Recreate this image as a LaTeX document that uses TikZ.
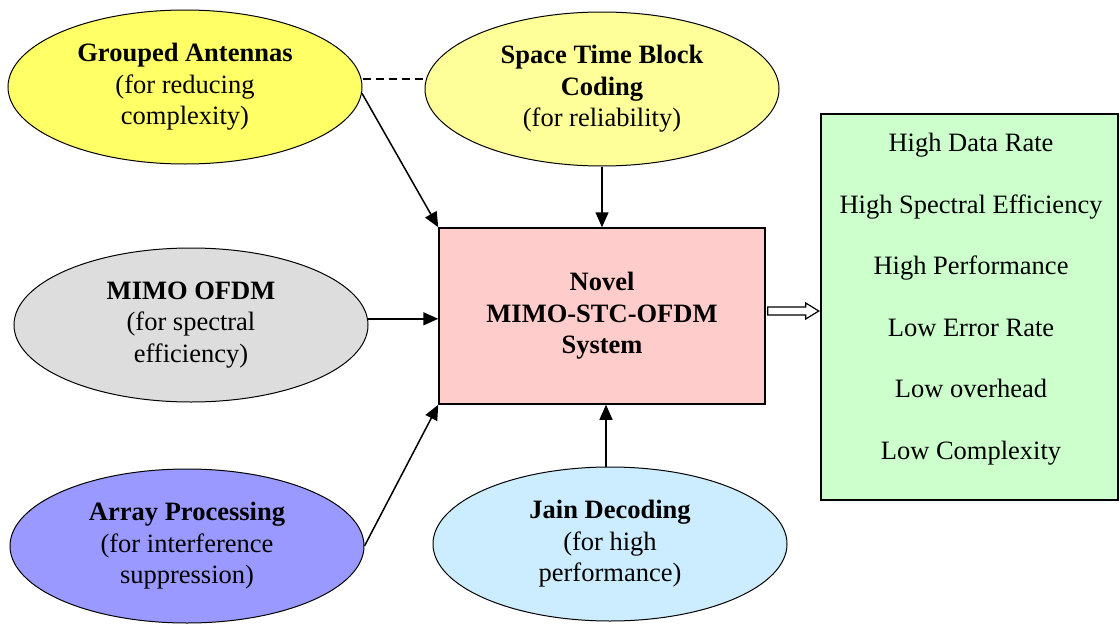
\documentclass[tikz,border=0pt]{standalone}
\usepackage{fontspec}
\setmainfont{Liberation Serif}
\usetikzlibrary{shapes.geometric,arrows.meta,calc}
\definecolor{gaY}{HTML}{FFFF66}
\definecolor{stY}{HTML}{FFFF99}
\definecolor{miG}{HTML}{DDDDDD}
\definecolor{apB}{HTML}{9999FF}
\definecolor{jdB}{HTML}{CCECFF}
\definecolor{bxR}{HTML}{FFCCCC}
\definecolor{rbG}{HTML}{CCFFCC}
\tikzset{
  oval/.style={ellipse, draw, line width=1pt, minimum width=354pt, minimum height=154pt, inner sep=0pt, align=center, font=\fontsize{26.5}{31.5}\selectfont},
  mainbox/.style={rectangle, draw, line width=1.5pt, inner sep=0pt, align=center, font=\fontsize{26.5}{31.5}\selectfont\bfseries},
  resline/.style={font=\fontsize{26.5}{31.5}\selectfont, text height=0.7em, text depth=0.2em, inner sep=0pt},
  arr/.style={line width=1.5pt, -{Triangle[length=15pt,width=13pt]}},
}
\begin{document}
\begin{tikzpicture}[x=1pt,y=-1pt]
\useasboundingbox (0,0) rectangle (1120,624);
\node[oval, fill=gaY] (ga) at (185,87) {\textbf{Grouped Antennas}\\(for reducing\\complexity)};
\node[oval, fill=stY] (stbc) at (602,89) {\textbf{Space Time Block}\\\textbf{Coding}\\(for reliability)};
\node[oval, fill=miG] (mimo) at (191,325) {\textbf{MIMO OFDM}\\(for spectral\\efficiency)};
\node[oval, fill=apB] (ap) at (187,546) {\textbf{Array Processing}\\(for interference\\suppression)};
\node[oval, fill=jdB] (jd) at (610,544) {\textbf{Jain Decoding}\\(for high\\performance)};
\node[mainbox, fill=bxR, minimum width=326pt, minimum height=176pt] (box) at (602,316) {Novel\\MIMO-STC-OFDM\\System};
\node[rectangle, draw, line width=1.5pt, fill=rbG, minimum width=297pt, minimum height=386pt] (rb) at (969.5,307) {};
\node[resline] (r1) at (971,149) {High Data Rate};
\node[resline] (r2) at (971,210.5) {High Spectral Efficiency};
\node[resline] (r3) at (971,272) {High Performance};
\node[resline] (r4) at (971,333.5) {Low Error Rate};
\node[resline] (r5) at (971,395) {Low overhead};
\node[resline] (r6) at (971,456.5) {Low Complexity};
\draw[line width=1.2pt, dash pattern=on 8pt off 5pt] ([yshift=8pt]ga.east) -- ([yshift=10pt]stbc.west);
\draw[arr] (ga.-2.5) -- (box.north west);
\draw[arr] (stbc.south) -- (box.north);
\draw[arr] (mimo.2) -- (mimo.2 -| box.west);
\draw[arr] (ap.east) -- (box.south west);
\draw[arr] ([xshift=-4pt]jd.north) -- ([xshift=-4pt]jd.north |- box.south);
\draw[fill=white, line width=1.2pt] ($(box.east)+(2,-9)$) -- ++(38,0) -- ++(0,-4) -- ++(13,8) -- ++(-13,8) -- ++(0,-4) -- ++(-38,0) -- cycle;
\end{tikzpicture}
\end{document}
